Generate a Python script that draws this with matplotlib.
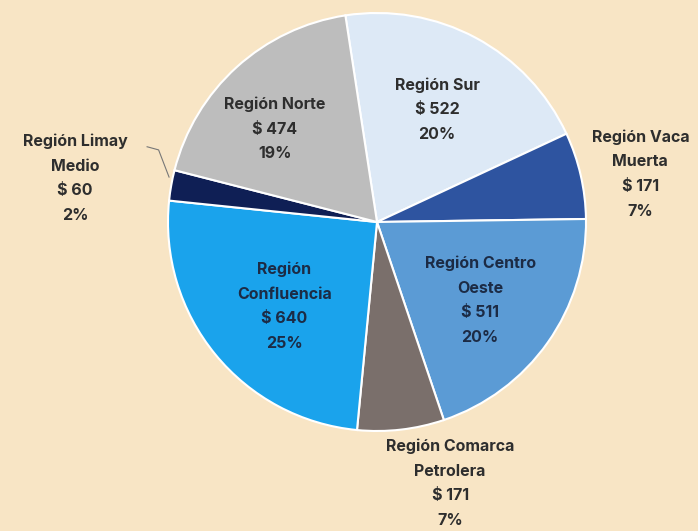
import numpy as np
import matplotlib.pyplot as plt

# data
regions = ["Región Sur", "Región Vaca\nMuerta", "Región Centro\nOeste",
           "Región Comarca\nPetrolera", "Región\nConfluencia",
           "Región Limay\nMedio", "Región Norte"]
values = [522, 171, 511, 171, 640, 60, 474]
percents = ["20%", "7%", "20%", "7%", "25%", "2%", "19%"]
colors = ["#dde9f6", "#2e54a0", "#5b9bd5", "#7a6f6b", "#1aa3ec", "#0f1f55", "#bdbdbd"]

bg = "#f8e5c5"
plt.rcParams['font.family'] = ['Inter', 'DejaVu Sans']

fig = plt.figure(figsize=(6.98, 5.31), dpi=100, facecolor=bg)
cx, cy, r = 377, 222, 209
ax = fig.add_axes([(cx - r) / 698, (531 - cy - r) / 531, 2 * r / 698, 2 * r / 531])
ax.set_facecolor(bg)

wedges, _ = ax.pie(values, colors=colors, startangle=98.7, counterclock=False,
                   radius=1, wedgeprops=dict(edgecolor="white", linewidth=1.5))
ax.set_xlim(-1, 1)
ax.set_ylim(-1, 1)
ax.set_aspect("equal")
ax.axis("off")

# inside labels: (radius, angle nudge in degrees); outside labels: fixed spot
inner = {0: (0.61, 0), 2: (0.62, -2), 4: (0.60, 3), 6: (0.66, 5.5)}
outer = {1: (1.26, 0.23), 3: (0.35, -1.25), 5: (-1.445, 0.21)}
for i, w in enumerate(wedges):
    txt = f"{regions[i]}\n$ {values[i]}\n{percents[i]}"
    if i in inner:
        rr, nudge = inner[i]
        mid = np.deg2rad((w.theta1 + w.theta2) / 2 + nudge)
        x, y = rr * np.cos(mid), rr * np.sin(mid)
        col = "#1c2b45" if colors[i] in ("#5b9bd5", "#1aa3ec") else "#2e2e2e"
    else:
        x, y = outer[i]
        col = "#2e2e2e"
    ax.text(x, y, txt, ha="center", va="center", fontsize=11.5, fontweight="bold",
            color=col, linespacing=1.8, clip_on=False)

# leader line for Limay Medio
ax.plot([-1.10, -1.045, -0.995], [0.36, 0.345, 0.215], color="#777777",
        lw=0.8, clip_on=False)

fig.savefig("out.png", dpi=100, facecolor=bg)
